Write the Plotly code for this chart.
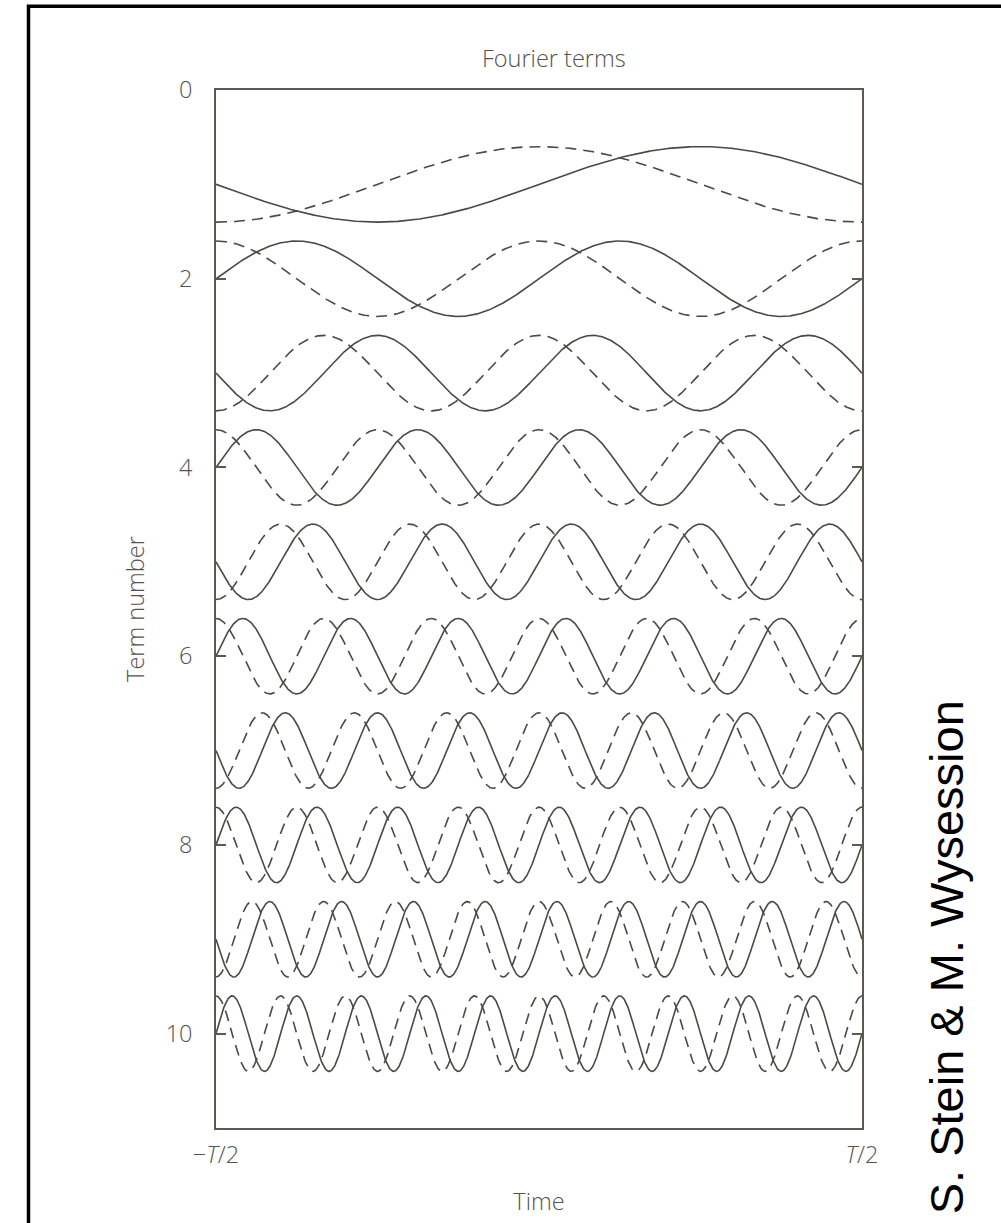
import numpy as np
import plotly.graph_objects as go

# Fourier terms n = 1..10, each drawn around its own baseline y = n
TERMS = [1, 2, 3, 4, 5, 6, 7, 8, 9, 10]
AMPLITUDE = 0.4
Y_TICKS = [0, 2, 4, 6, 8, 10]
X_TICKS = [-0.5, 0.5]
X_TICK_TEXT = ["\u2212<i>T</i>/2", "<i>T</i>/2"]

# time in units of the period T, from -T/2 to T/2
t = np.linspace(-0.5, 0.5, 1200)

LINE_COLOR = "#4d4942"
AXIS_COLOR = "#5e5950"
TEXT_COLOR = "#555350"
FONT = "Open Sans"
FS = 23.5

fig = go.Figure()
for n in TERMS:
    # sine term: solid
    fig.add_trace(go.Scatter(
        x=t, y=n - AMPLITUDE * np.sin(2 * np.pi * n * t),
        mode="lines", line=dict(color=LINE_COLOR, width=1.6),
        showlegend=False, hoverinfo="skip"))
    # cosine term: dashed
    fig.add_trace(go.Scatter(
        x=t, y=n - AMPLITUDE * np.cos(2 * np.pi * n * t),
        mode="lines", line=dict(color=LINE_COLOR, width=1.6, dash="11px,7px"),
        showlegend=False, hoverinfo="skip"))

W, H = 1001, 1223
L, R, T, B = 216, 139, 90, 87
pw, ph = W - L - R, H - T - B


def px_x(p):
    return (p - L) / pw


def px_y(p):
    return (H - B - p) / ph


text_font = dict(family=FONT, size=FS, color=TEXT_COLOR, weight=300)

fig.update_layout(
    width=W, height=H,
    margin=dict(l=L, r=R, t=T, b=B, pad=0),
    paper_bgcolor="white", plot_bgcolor="white",
    font=text_font,
    xaxis=dict(
        range=[-0.5, 0.5], tickvals=X_TICKS, ticktext=X_TICK_TEXT,
        ticks="", showgrid=False, zeroline=False,
        showline=True, linecolor=AXIS_COLOR, linewidth=1.6, mirror=True,
        tickfont=text_font,
        ticklabelstandoff=5,
        title=dict(text="Time", font=text_font, standoff=25),
    ),
    yaxis=dict(
        range=[11, 0], tickvals=Y_TICKS,
        ticks="inside", ticklen=10, tickwidth=1.6, tickcolor=AXIS_COLOR,
        showgrid=False, zeroline=False,
        showline=True, linecolor=AXIS_COLOR, linewidth=1.6, mirror="ticks",
        tickfont=text_font,
        ticklabelstandoff=17,
        title=dict(text="Term number", font=text_font, standoff=14),
    ),
    annotations=[
        dict(text="Fourier terms", xref="paper", yref="paper",
             x=px_x(554), y=px_y(58), xanchor="center", yanchor="middle",
             showarrow=False, font=text_font),
        dict(text="S. Stein &amp; M. Wysession", xref="paper", yref="paper",
             x=px_x(946), y=px_y(964), xanchor="center", yanchor="middle",
             textangle=-90, showarrow=False,
             font=dict(family="Liberation Sans", size=47, color="black")),
    ],
    shapes=[
        dict(type="rect", xref="paper", yref="paper",
             x0=px_x(28.5), x1=px_x(1010), y0=px_y(1235), y1=px_y(5.5),
             line=dict(color="black", width=3.5), layer="above"),
    ],
)

fig.write_html("out.html")
